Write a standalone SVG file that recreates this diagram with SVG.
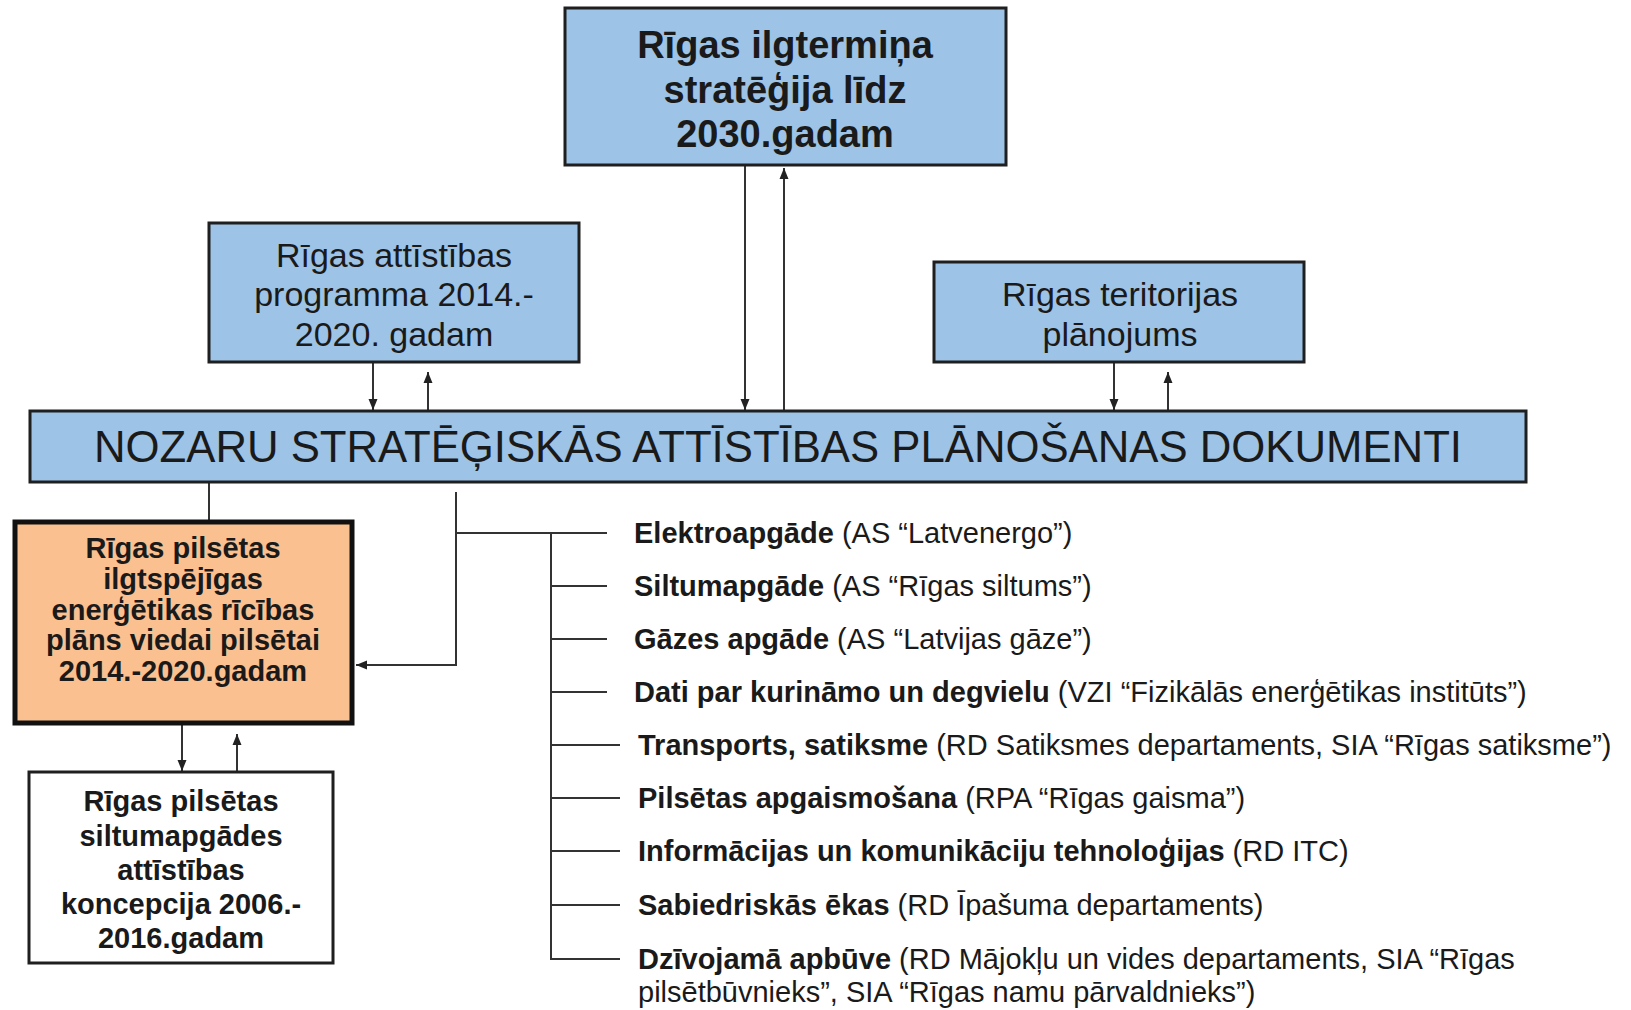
<svg xmlns="http://www.w3.org/2000/svg" width="1631" height="1010" viewBox="0 0 1631 1010">
<style>
.blue{fill:#9DC3E6;stroke:#1f1f1f;stroke-width:3}
.orange{fill:#FAC090;stroke:#111;stroke-width:5}
.white{fill:#fff;stroke:#1f1f1f;stroke-width:3}
.t{font-family:"Liberation Sans",Arial,sans-serif;fill:#1a1a1a}
.c{text-anchor:middle}
.b{font-weight:bold}
.ln{fill:none;stroke:#333;stroke-width:2}
</style>
<defs>
<marker id="ah" markerUnits="userSpaceOnUse" markerWidth="12" markerHeight="12" viewBox="0 0 12 12" refX="11" refY="6" orient="auto">
<path d="M0,1.5 L11,6 L0,10.5 Z" fill="#222"/>
</marker>
</defs>
<rect width="1631" height="1010" fill="#fff"/>

<g id="connectors">
<line class="ln" x1="745" y1="165" x2="745" y2="410" marker-end="url(#ah)"/>
<line class="ln" x1="784" y1="410" x2="784" y2="168" marker-end="url(#ah)"/>
<line class="ln" x1="373" y1="362" x2="373" y2="410" marker-end="url(#ah)"/>
<line class="ln" x1="428" y1="410" x2="428" y2="372" marker-end="url(#ah)"/>
<line class="ln" x1="1114" y1="362" x2="1114" y2="410" marker-end="url(#ah)"/>
<line class="ln" x1="1168" y1="410" x2="1168" y2="372" marker-end="url(#ah)"/>
<line class="ln" x1="209" y1="482" x2="209" y2="521"/>
<path class="ln" d="M456,492 V665 H356" marker-end="url(#ah)"/>
<line class="ln" x1="456" y1="533" x2="607" y2="533"/>
<line class="ln" x1="551" y1="533" x2="551" y2="960"/>
<line class="ln" x1="551" y1="586" x2="607" y2="586"/>
<line class="ln" x1="551" y1="639" x2="607" y2="639"/>
<line class="ln" x1="551" y1="692" x2="607" y2="692"/>
<line class="ln" x1="551" y1="745" x2="620" y2="745"/>
<line class="ln" x1="551" y1="798" x2="620" y2="798"/>
<line class="ln" x1="551" y1="851" x2="620" y2="851"/>
<line class="ln" x1="551" y1="905" x2="620" y2="905"/>
<line class="ln" x1="550" y1="959" x2="620" y2="959"/>
<line class="ln" x1="182" y1="724" x2="182" y2="771" marker-end="url(#ah)"/>
<line class="ln" x1="237" y1="771" x2="237" y2="734" marker-end="url(#ah)"/>
</g>

<g id="n-strategija">
<rect class="blue" x="565" y="8" width="441" height="157"/>
<text class="t c b" font-size="38" x="785" y="58">Rīgas ilgtermiņa</text>
<text class="t c b" font-size="38" x="785" y="103">stratēģija līdz</text>
<text class="t c b" font-size="38" x="785" y="147">2030.gadam</text>
</g>

<g id="n-programma">
<rect class="blue" x="209" y="223" width="370" height="139"/>
<text class="t c" font-size="34" x="394" y="267">Rīgas attīstības</text>
<text class="t c" font-size="34" x="394" y="306">programma 2014.-</text>
<text class="t c" font-size="34" x="394" y="346">2020. gadam</text>
</g>

<g id="n-teritorijas">
<rect class="blue" x="934" y="262" width="370" height="100"/>
<text class="t c" font-size="34" x="1120" y="306">Rīgas teritorijas</text>
<text class="t c" font-size="34" x="1120" y="346">plānojums</text>
</g>

<g id="n-nozaru">
<rect class="blue" x="30" y="411" width="1496" height="71"/>
<text class="t c" font-size="43.5" x="778" y="462" textLength="1368" lengthAdjust="spacingAndGlyphs">NOZARU STRATĒĢISKĀS ATTĪSTĪBAS PLĀNOŠANAS DOKUMENTI</text>
</g>

<g id="n-ricibas-plans">
<rect class="orange" x="15" y="522" width="337" height="201"/>
<text class="t c b" font-size="29" x="183" y="558">Rīgas pilsētas</text>
<text class="t c b" font-size="29" x="183" y="589">ilgtspējīgas</text>
<text class="t c b" font-size="29" x="183" y="620">enerģētikas rīcības</text>
<text class="t c b" font-size="29" x="183" y="650">plāns viedai pilsētai</text>
<text class="t c b" font-size="29" x="183" y="681">2014.-2020.gadam</text>
</g>

<g id="n-siltumapgade-koncepcija">
<rect class="white" x="29" y="772" width="304" height="191"/>
<text class="t c b" font-size="29" x="181" y="811">Rīgas pilsētas</text>
<text class="t c b" font-size="29" x="181" y="846">siltumapgādes</text>
<text class="t c b" font-size="29" x="181" y="880">attīstības</text>
<text class="t c b" font-size="29" x="181" y="914">koncepcija 2006.-</text>
<text class="t c b" font-size="29" x="181" y="948">2016.gadam</text>
</g>

<g id="n-items" class="t" font-size="29">
<text x="634" y="543"><tspan class="b">Elektroapgāde</tspan> (AS “Latvenergo”)</text>
<text x="634" y="596"><tspan class="b">Siltumapgāde</tspan> (AS “Rīgas siltums”)</text>
<text x="634" y="649"><tspan class="b">Gāzes apgāde</tspan> (AS “Latvijas gāze”)</text>
<text x="634" y="702"><tspan class="b">Dati par kurināmo un degvielu</tspan> (VZI “Fizikālās enerģētikas institūts”)</text>
<text x="638" y="755"><tspan class="b">Transports, satiksme</tspan> (RD Satiksmes departaments, SIA “Rīgas satiksme”)</text>
<text x="638" y="808"><tspan class="b">Pilsētas apgaismošana</tspan> (RPA “Rīgas gaisma”)</text>
<text x="638" y="861"><tspan class="b">Informācijas un komunikāciju tehnoloģijas</tspan> (RD ITC)</text>
<text x="638" y="915"><tspan class="b">Sabiedriskās ēkas</tspan> (RD Īpašuma departaments)</text>
<text x="638" y="969"><tspan class="b">Dzīvojamā apbūve</tspan> (RD Mājokļu un vides departaments, SIA “Rīgas</text>
<text x="638" y="1002">pilsētbūvnieks”, SIA “Rīgas namu pārvaldnieks”)</text>
</g>
</svg>
